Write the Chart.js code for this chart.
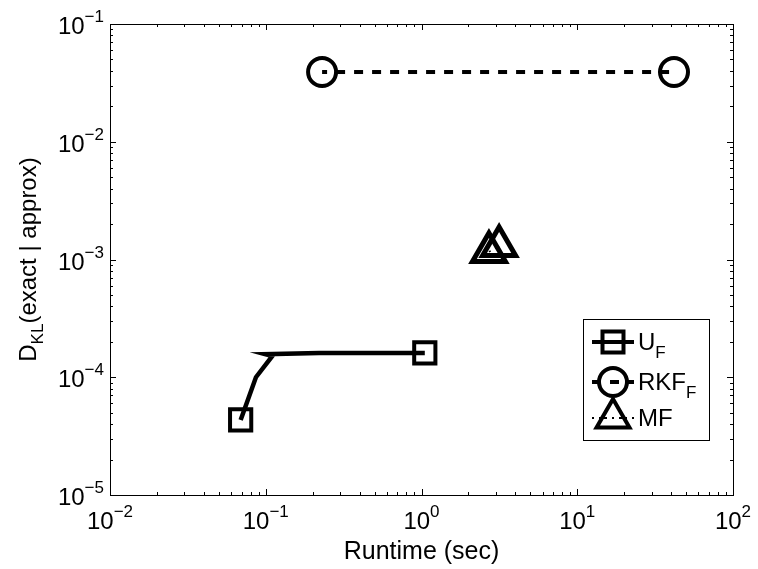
<!DOCTYPE html>
<html>
<head>
<meta charset="utf-8">
<script src="https://cdn.jsdelivr.net/npm/chart.js@4/dist/chart.umd.min.js"></script>
<style>
  html, body { margin: 0; padding: 0; background: #fff; }
</style>
</head>
<body>
<canvas id="plot" width="758" height="569"></canvas>
<script>
// data
const uRuntime = [0.069, 0.0865, 0.110, 0.0988, 0.22, 0.363, 1.05];
const uDkl = [4.34e-5, 1.0e-4, 1.51e-4, 1.57e-4, 1.61e-4, 1.61e-4, 1.61e-4];
const rkfRuntime = [0.23, 41.8];
const rkfDkl = [0.0391, 0.0391];
const mfRuntime = [2.71, 3.15];
const mfDkl = [1.16e-3, 1.30e-3];

const xTickValues = [0.01, 0.1, 1, 10, 100];
const xTickExp = ['\u22122', '\u22121', '0', '1', '2'];
const yTickValues = [1e-5, 1e-4, 1e-3, 1e-2, 1e-1];
const yTickExp = ['\u22125', '\u22124', '\u22123', '\u22122', '\u22121'];

const legendNames = ['U', 'RKF', 'MF'];
const legendSubs = ['F', 'F', ''];

const FONT = "'Liberation Sans', Arial, Helvetica, sans-serif";

function pts(xs, ys) {
    return xs.map(function (x, i) { return { x: x, y: ys[i] }; });
}

// text made of pieces (superscripts / subscripts)
function richText(ctx, parts, x, y, align) {
    let total = 0;
    parts.forEach(function (p) {
        ctx.font = p.size + 'px ' + FONT;
        p.w = ctx.measureText(p.t).width;
        total += p.w;
    });
    let cx = x;
    if (align === 'center') cx = x - total / 2;
    if (align === 'right') cx = x - total;
    parts.forEach(function (p) {
        ctx.font = p.size + 'px ' + FONT;
        ctx.fillText(p.t, cx, y + (p.dy || 0));
        cx += p.w;
    });
    return total;
}

function marker(ctx, style, x, y) {
    ctx.save();
    ctx.lineWidth = 4;
    ctx.strokeStyle = '#000';
    ctx.setLineDash([]);
    ctx.beginPath();
    if (style === 'rect') {
        ctx.rect(x - 10.5, y - 10.5, 21, 21);
    } else if (style === 'circle') {
        ctx.arc(x, y, 14, 0, Math.PI * 2);
    } else {
        const r = 19;
        ctx.moveTo(x, y - r);
        ctx.lineTo(x + r * Math.sin(2 * Math.PI / 3), y + r / 2);
        ctx.lineTo(x - r * Math.sin(2 * Math.PI / 3), y + r / 2);
        ctx.closePath();
    }
    ctx.stroke();
    ctx.restore();
}

const framePlugin = {
    id: 'frame',
    afterDraw: function (chart) {
        const ctx = chart.ctx;
        const a = chart.chartArea;
        const xs = chart.scales.x;
        const ys = chart.scales.y;
        ctx.save();
        ctx.strokeStyle = '#000';
        ctx.fillStyle = '#000';
        ctx.lineWidth = 1;
        ctx.strokeRect(Math.round(a.left) + 0.5, Math.round(a.top) + 0.5,
            Math.round(a.right - a.left), Math.round(a.bottom - a.top));

        // log ticks on all four sides, pointing inward
        ctx.beginPath();
        for (let d = -2; d < 2; d++) {
            for (let m = 1; m <= 9; m++) {
                const px = Math.round(xs.getPixelForValue(m * Math.pow(10, d))) + 0.5;
                const len = m === 1 ? 6 : 3;
                ctx.moveTo(px, a.bottom); ctx.lineTo(px, a.bottom - len);
                ctx.moveTo(px, a.top); ctx.lineTo(px, a.top + len);
            }
        }
        for (let d = -5; d < -1; d++) {
            for (let m = 1; m <= 9; m++) {
                const py = Math.round(ys.getPixelForValue(m * Math.pow(10, d))) + 0.5;
                const len = m === 1 ? 6 : 3;
                ctx.moveTo(a.left, py); ctx.lineTo(a.left + len, py);
                ctx.moveTo(a.right, py); ctx.lineTo(a.right - len, py);
            }
        }
        ctx.stroke();

        // tick labels
        ctx.textBaseline = 'alphabetic';
        ctx.textAlign = 'left';
        xTickValues.forEach(function (v, i) {
            const px = xs.getPixelForValue(v);
            richText(ctx, [{ t: '10', size: 24 }, { t: xTickExp[i], size: 17, dy: -12 }],
                px, a.bottom + 34, 'center');
        });
        yTickValues.forEach(function (v, i) {
            const py = ys.getPixelForValue(v);
            richText(ctx, [{ t: '10', size: 24 }, { t: yTickExp[i], size: 17, dy: -12 }],
                a.left - 6, py + 10, 'right');
        });

        // axis titles
        richText(ctx, [{ t: 'Runtime (sec)', size: 25 }], (a.left + a.right) / 2, a.bottom + 64, 'center');
        ctx.save();
        ctx.translate(27, (a.top + a.bottom) / 2);
        ctx.rotate(-Math.PI / 2);
        richText(ctx, [{ t: 'D', size: 24 }, { t: 'KL', size: 17, dy: 7 }, { t: '(exact | approx)', size: 24 }],
            0, 9, 'center');
        ctx.restore();

        // legend box
        const lx = 583, ly = 319, lw = 126, lh = 121;
        ctx.fillStyle = '#fff';
        ctx.fillRect(lx, ly, lw, lh);
        ctx.strokeRect(lx + 0.5, ly + 0.5, lw, lh);
        ctx.fillStyle = '#000';
        const rows = [342, 382, 418];
        const styles = ['rect', 'circle', 'triangle'];
        const dashes = [[], [9, 9], [2, 5, 8, 5]];
        const widths = [4, 4, 2];
        legendNames.forEach(function (name, i) {
            const y = rows[i];
            ctx.save();
            ctx.lineWidth = widths[i];
            ctx.setLineDash(dashes[i]);
            ctx.beginPath();
            ctx.moveTo(592, y); ctx.lineTo(634, y);
            ctx.stroke();
            ctx.restore();
            marker(ctx, styles[i], 613, y);
            if (styles[i] === 'circle') {
                ctx.fillRect(611, y - 2, 4, 4);
            }
            const parts = [{ t: name, size: 24 }];
            if (legendSubs[i]) parts.push({ t: legendSubs[i], size: 17, dy: 8 });
            richText(ctx, parts, 638, y + 8, 'left');
        });
        ctx.restore();
    }
};

new Chart(document.getElementById('plot'), {
    type: 'line',
    data: {
        datasets: [
            {
                label: 'U_F',
                data: pts(uRuntime, uDkl),
                borderColor: '#000',
                borderWidth: 4.5,
                pointStyle: 'rect',
                pointRadius: [15, 0, 0, 0, 0, 0, 15],
                pointBorderWidth: 4,
                pointBorderColor: '#000',
                pointBackgroundColor: 'rgba(0,0,0,0)',
                tension: 0
            },
            {
                label: 'RKF_F',
                data: pts(rkfRuntime, rkfDkl),
                borderColor: '#000',
                borderWidth: 4,
                borderDash: [9, 9],
                borderDashOffset: 4,
                pointStyle: 'circle',
                pointRadius: 14,
                pointBorderWidth: 4,
                pointBorderColor: '#000',
                pointBackgroundColor: 'rgba(0,0,0,0)',
                tension: 0
            },
            {
                label: 'MF',
                data: pts(mfRuntime, mfDkl),
                borderColor: '#000',
                borderWidth: 1.5,
                borderDash: [2, 5, 8, 5],
                pointStyle: 'triangle',
                pointRadius: 19,
                pointBorderWidth: 5,
                pointBorderColor: '#000',
                pointBackgroundColor: 'rgba(0,0,0,0)',
                tension: 0
            }
        ]
    },
    options: {
        responsive: false,
        animation: false,
        devicePixelRatio: 1,
        layout: { padding: { left: 110, right: 25, top: 24, bottom: 74 } },
        plugins: { legend: { display: false }, tooltip: { enabled: false } },
        scales: {
            x: { type: 'logarithmic', min: 0.01, max: 100, display: false },
            y: { type: 'logarithmic', min: 1e-5, max: 0.1, display: false }
        }
    },
    plugins: [framePlugin]
});
</script>
</body>
</html>
